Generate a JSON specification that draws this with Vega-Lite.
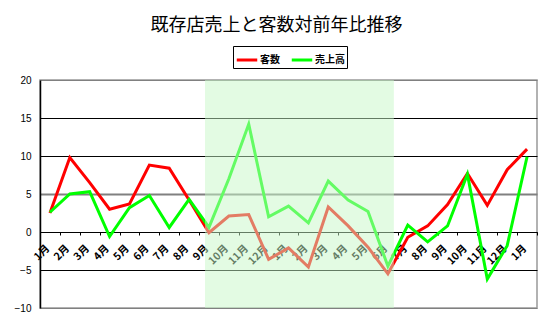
{
  "$schema": "https://vega.github.io/schema/vega-lite/v6.json",
  "width": 497,
  "height": 228,
  "autosize": {"type": "none"},
  "padding": {"left": 40, "top": 80, "right": 13, "bottom": 20},
  "background": "white",
  "title": {
    "text": "既存店売上と客数対前年比推移",
    "font": "Noto Sans CJK JP",
    "fontSize": 18,
    "fontWeight": "normal",
    "color": "#000000",
    "anchor": "middle",
    "frame": "group",
    "offset": 11,
    "dx": -12
  },
  "config": {
    "view": {"stroke": "#999999", "strokeWidth": 1.5},
    "legend": {
      "orient": "none",
      "legendX": 193,
      "legendY": -34,
      "direction": "horizontal",
      "strokeColor": "#000000",
      "strokeWidth": 1,
      "fillColor": "white",
      "padding": 2,
      "symbolType": "stroke",
      "symbolSize": 420,
      "symbolStrokeWidth": 3,
      "labelFont": "Noto Sans CJK JP",
      "labelFontWeight": "bold",
      "labelFontSize": 10,
      "labelColor": "#000000",
      "labelOffset": 1,
      "columnPadding": 5
    }
  },
  "layer": [
    {
      "data": {
        "values": [
          {"k": "00:1月", "series": "客数", "v": 2.5}, {"k": "00:1月", "series": "売上高", "v": 2.6},
          {"k": "01:2月", "series": "客数", "v": 9.8}, {"k": "01:2月", "series": "売上高", "v": 5.0},
          {"k": "02:3月", "series": "客数", "v": 6.5}, {"k": "02:3月", "series": "売上高", "v": 5.3},
          {"k": "03:4月", "series": "客数", "v": 3.0}, {"k": "03:4月", "series": "売上高", "v": -0.6},
          {"k": "04:5月", "series": "客数", "v": 3.7}, {"k": "04:5月", "series": "売上高", "v": 3.2},
          {"k": "05:6月", "series": "客数", "v": 8.8}, {"k": "05:6月", "series": "売上高", "v": 4.8},
          {"k": "06:7月", "series": "客数", "v": 8.4}, {"k": "06:7月", "series": "売上高", "v": 0.6},
          {"k": "07:8月", "series": "客数", "v": 4.2}, {"k": "07:8月", "series": "売上高", "v": 4.3},
          {"k": "08:9月", "series": "客数", "v": -0.1}, {"k": "08:9月", "series": "売上高", "v": 0.6},
          {"k": "09:10月", "series": "客数", "v": 2.1}, {"k": "09:10月", "series": "売上高", "v": 7.0},
          {"k": "10:11月", "series": "客数", "v": 2.3}, {"k": "10:11月", "series": "売上高", "v": 14.2},
          {"k": "11:12月", "series": "客数", "v": -3.6}, {"k": "11:12月", "series": "売上高", "v": 2.0},
          {"k": "12:1月", "series": "客数", "v": -2.1}, {"k": "12:1月", "series": "売上高", "v": 3.4},
          {"k": "13:2月", "series": "客数", "v": -4.6}, {"k": "13:2月", "series": "売上高", "v": 1.2},
          {"k": "14:3月", "series": "客数", "v": 3.3}, {"k": "14:3月", "series": "売上高", "v": 6.7},
          {"k": "15:4月", "series": "客数", "v": 0.8}, {"k": "15:4月", "series": "売上高", "v": 4.2},
          {"k": "16:5月", "series": "客数", "v": -2.0}, {"k": "16:5月", "series": "売上高", "v": 2.7},
          {"k": "17:6月", "series": "客数", "v": -5.5}, {"k": "17:6月", "series": "売上高", "v": -4.5},
          {"k": "18:7月", "series": "客数", "v": -0.7}, {"k": "18:7月", "series": "売上高", "v": 0.9},
          {"k": "19:8月", "series": "客数", "v": 0.8}, {"k": "19:8月", "series": "売上高", "v": -1.3},
          {"k": "20:9月", "series": "客数", "v": 3.6}, {"k": "20:9月", "series": "売上高", "v": 0.8},
          {"k": "21:10月", "series": "客数", "v": 7.7}, {"k": "21:10月", "series": "売上高", "v": 7.6},
          {"k": "22:11月", "series": "客数", "v": 3.5}, {"k": "22:11月", "series": "売上高", "v": -6.2},
          {"k": "23:12月", "series": "客数", "v": 8.2}, {"k": "23:12月", "series": "売上高", "v": -1.8},
          {"k": "24:1月", "series": "客数", "v": 10.9}, {"k": "24:1月", "series": "売上高", "v": 9.9}
        ]
      },
      "mark": {"type": "line", "strokeWidth": 3},
      "encoding": {
        "x": {
          "field": "k",
          "type": "ordinal",
          "scale": {"paddingInner": 0, "paddingOuter": 0},
          "axis": {
            "title": null,
            "offset": -76,
            "labelExpr": "split(datum.label, ':')[1]",
            "labelAngle": -45,
            "labelFont": "Noto Sans CJK JP",
            "labelFontWeight": "bold",
            "labelFontSize": 10.5,
            "labelColor": "#000000",
            "labelPadding": 8,
            "labelOffset": -6,
            "domainColor": "#000000",
            "domainWidth": 1,
            "tickColor": "#000000",
            "tickSize": 3,
            "tickBand": "extent",
            "grid": false
          }
        },
        "y": {
          "field": "v",
          "type": "quantitative",
          "scale": {"domain": [-10, 20], "nice": false, "zero": false},
          "axis": {
            "title": null,
            "values": [-10, -5, 0, 5, 10, 15, 20],
            "labelOverlap": false,
            "labelFont": "Liberation Sans",
            "labelFontSize": 10,
            "labelColor": "#000000",
            "labelPadding": 9,
            "ticks": false,
            "domainColor": "#000000",
            "domainWidth": 1.5,
            "grid": true,
            "gridColor": {"condition": {"test": "datum.value === 5 || datum.value === 20 || datum.value === -10", "value": "#808080"}, "value": "#000000"},
            "gridWidth": {"condition": {"test": "datum.value === 5", "value": 2}, "value": 1},
            "gridOpacity": 1
          }
        },
        "color": {
          "field": "series",
          "type": "nominal",
          "scale": {"domain": ["客数", "売上高"], "range": ["#ff0000", "#00ff00"]},
          "legend": {"title": null}
        }
      }
    },
    {
      "data": {"values": [{"x1": 7.8, "x2": 17.3, "y1": -10, "y2": 20}]},
      "mark": {"type": "rect", "color": "#c8f7c8", "opacity": 0.5},
      "encoding": {
        "x": {"field": "x1", "type": "quantitative", "scale": {"domain": [-0.5, 24.5], "nice": false, "zero": false}, "axis": null},
        "x2": {"field": "x2"},
        "y": {
          "field": "y1",
          "type": "quantitative",
          "axis": {
            "title": null,
            "values": [-10, -5, 0, 5, 10, 15, 20],
            "labelOverlap": false,
            "labelFont": "Liberation Sans",
            "labelFontSize": 10,
            "labelColor": "#000000",
            "labelPadding": 9,
            "ticks": false,
            "domainColor": "#000000",
            "domainWidth": 1.5,
            "grid": true,
            "gridColor": {"condition": {"test": "datum.value === 5 || datum.value === 20 || datum.value === -10", "value": "#808080"}, "value": "#000000"},
            "gridWidth": {"condition": {"test": "datum.value === 5", "value": 2}, "value": 1},
            "gridOpacity": 1
          }
        },
        "y2": {"field": "y2"}
      }
    }
  ],
  "resolve": {"scale": {"x": "independent"}}
}
